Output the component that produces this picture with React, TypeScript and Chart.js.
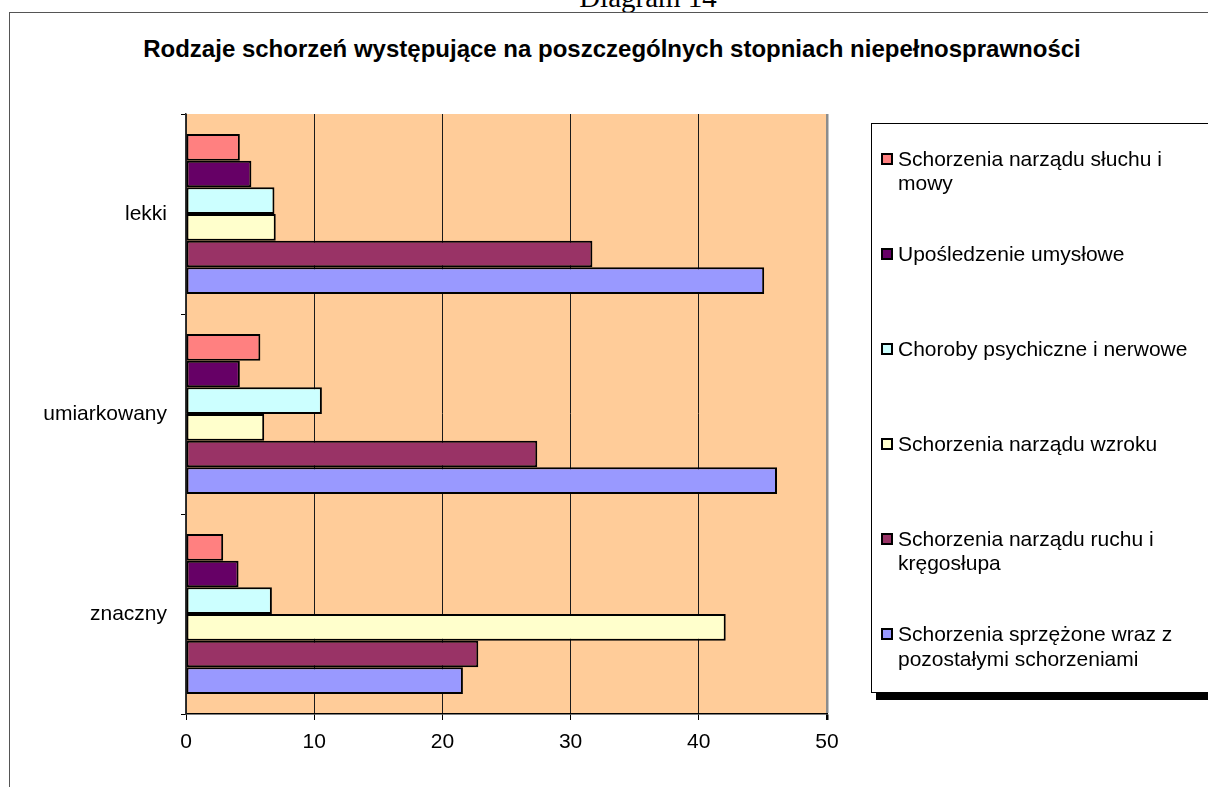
import React, { useEffect, useRef } from 'react';
import { Chart, registerables } from 'chart.js';

Chart.register(...registerables);

// ---- data ----
const categories = ['lekki', 'umiarkowany', 'znaczny'];

const seriesLabels = [
  'Schorzenia narządu słuchu i\nmowy',
  'Upośledzenie umysłowe',
  'Choroby psychiczne i nerwowe',
  'Schorzenia narządu wzroku',
  'Schorzenia narządu ruchu i\nkręgosłupa',
  'Schorzenia sprzężone wraz z\npozostałymi schorzeniami',
];

const sluchuMowy = [4.2, 5.8, 2.9];
const uposledzenieUmyslowe = [5.1, 4.2, 4.1];
const chorobyPsychiczne = [6.9, 10.6, 6.7];
const narzaduWzroku = [7.0, 6.1, 42.1];
const narzaduRuchu = [31.7, 27.4, 22.8];
const sprzezone = [45.1, 46.1, 21.6];

const seriesValues = [
  sluchuMowy,
  uposledzenieUmyslowe,
  chorobyPsychiczne,
  narzaduWzroku,
  narzaduRuchu,
  sprzezone,
];

const seriesColors = ['#FF8080', '#660066', '#CCFFFF', '#FFFFCC', '#993366', '#9999FF'];

const xTickValues = [0, 10, 20, 30, 40, 50];

const titleText = 'Rodzaje schorzeń występujące na poszczególnych stopniach niepełnosprawności';
const headerText = 'Diagram 14';

const SANS = '"Liberation Sans", Arial, sans-serif';
const SERIF = '"Liberation Serif", "Times New Roman", serif';

export default function App() {
  const canvasRef = useRef<HTMLCanvasElement | null>(null);

  useEffect(() => {
    const plotBg = {
      id: 'plotBg',
      beforeDraw(chart: any) {
        const { ctx, chartArea: a } = chart;
        ctx.save();
        ctx.fillStyle = '#FFCC99';
        ctx.fillRect(a.left, a.top, a.right - a.left, a.bottom - a.top);
        ctx.restore();
      },
    };

    const chart = new Chart(canvasRef.current as HTMLCanvasElement, {
      type: 'bar',
      data: {
        labels: categories,
        datasets: seriesValues.map((vals, i) => ({
          label: seriesLabels[i].replace('\n', ' '),
          data: vals,
          backgroundColor: seriesColors[i],
          borderColor: '#000000',
          borderWidth: 2,
          borderSkipped: false,
          categoryPercentage: 0.8,
          barPercentage: 1.0,
        })),
      },
      options: {
        indexAxis: 'y',
        responsive: false,
        animation: false,
        layout: { padding: { left: 0, top: 114, right: 381, bottom: 0 } },
        plugins: {
          legend: { display: false },
          title: { display: false },
          tooltip: { enabled: false },
        },
        scales: {
          x: {
            type: 'linear',
            min: 0,
            max: 50,
            afterBuildTicks: (scale: any) => {
              scale.ticks = xTickValues.map((v) => ({ value: v }));
            },
            ticks: {
              color: '#000000',
              font: { family: SANS, size: 21 },
              padding: 10,
              maxRotation: 0,
            },
            grid: {
              color: (ctx: any) => (ctx.tick && ctx.tick.value === 50 ? '#8c8c8c' : '#1a1a1a'),
              lineWidth: (ctx: any) => (ctx.tick && ctx.tick.value === 50 ? 2.5 : 1),
              tickColor: '#000000',
              tickLength: 6,
              drawTicks: true,
            },
            border: { color: '#000000', width: 1.5 },
            afterFit: (scale: any) => {
              scale.height = 73;
            },
          },
          y: {
            type: 'category',
            ticks: {
              color: '#000000',
              font: { family: SANS, size: 21 },
              padding: 14,
            },
            grid: {
              offset: true,
              drawOnChartArea: false,
              tickLength: 5,
              color: '#000000',
              tickColor: '#000000',
            },
            border: { color: '#333333', width: 1.5 },
            afterFit: (scale: any) => {
              scale.width = 186;
            },
          },
        },
      } as any,
      plugins: [plotBg],
    });

    return () => {
      chart.destroy();
    };
  }, []);

  const legendFirstCenter = 158.8;
  const legendStep = 95.1;
  const lineH = 24.5;

  return (
    <div
      style={{
        position: 'absolute',
        left: 0,
        top: 0,
        width: 1208,
        height: 787,
        overflow: 'hidden',
        background: '#ffffff',
      }}
    >
      <div
        style={{
          position: 'absolute',
          left: 0,
          top: -17,
          width: 1296,
          textAlign: 'center',
          fontFamily: SERIF,
          fontSize: 29,
          lineHeight: '29px',
          color: '#000',
          whiteSpace: 'nowrap',
        }}
      >
        {headerText}
      </div>
      <div
        style={{
          position: 'absolute',
          left: 9,
          top: 12,
          width: 1400,
          height: 1000,
          border: '1px solid #555555',
        }}
      />
      <div
        style={{
          position: 'absolute',
          left: 0,
          top: 35,
          width: 1224,
          textAlign: 'center',
          fontFamily: SANS,
          fontWeight: 'bold',
          fontSize: 24,
          lineHeight: '28px',
          color: '#000',
          whiteSpace: 'nowrap',
        }}
      >
        {titleText}
      </div>
      <canvas
        ref={canvasRef}
        width={1208}
        height={787}
        style={{ position: 'absolute', left: 0, top: 0, width: 1208, height: 787 }}
      />
      <div
        style={{
          position: 'absolute',
          left: 871,
          top: 123,
          width: 400,
          height: 570,
          boxSizing: 'border-box',
          border: '1px solid #000',
          background: '#fff',
          boxShadow: '5px 7px 0 #000',
        }}
      />
      {seriesLabels.map((lab, i) => {
        const c = legendFirstCenter + i * legendStep;
        return (
          <React.Fragment key={i}>
            <div
              style={{
                position: 'absolute',
                left: 881,
                top: c - 6,
                width: 12,
                height: 12,
                boxSizing: 'border-box',
                border: '2px solid #000',
                background: seriesColors[i],
              }}
            />
            <div
              style={{
                position: 'absolute',
                left: 898,
                top: c - lineH / 2,
                fontFamily: SANS,
                fontSize: 21,
                lineHeight: lineH + 'px',
                color: '#000',
                whiteSpace: 'pre',
              }}
            >
              {lab}
            </div>
          </React.Fragment>
        );
      })}
    </div>
  );
}
